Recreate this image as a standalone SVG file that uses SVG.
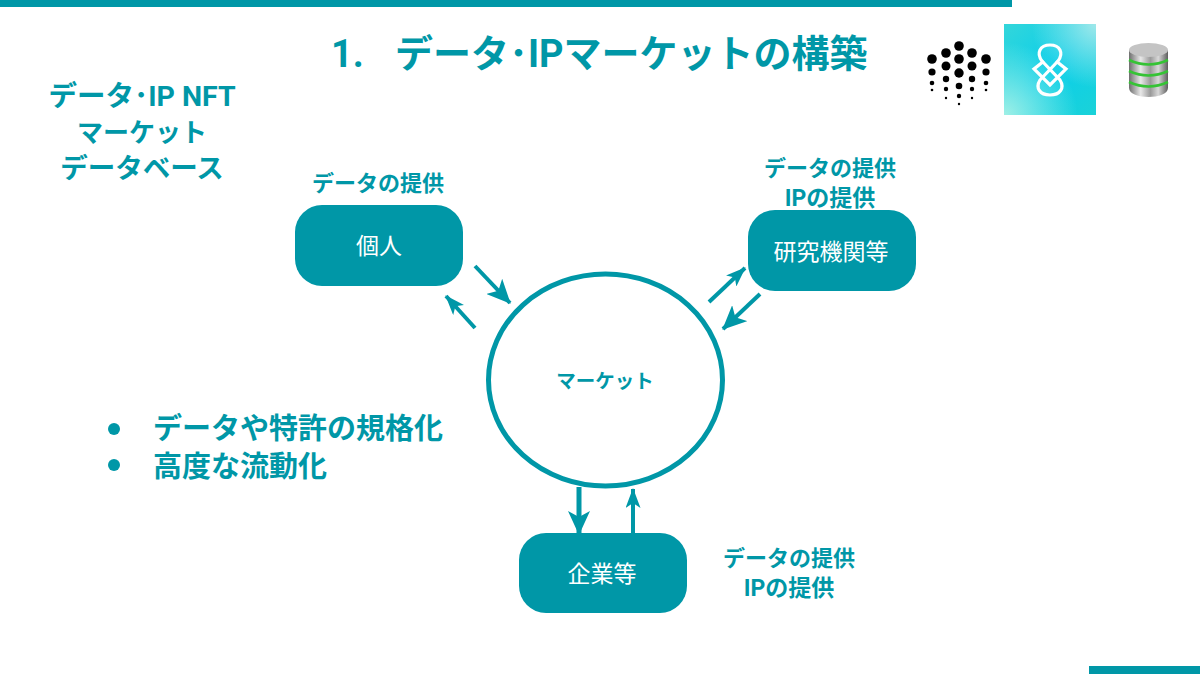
<svg xmlns="http://www.w3.org/2000/svg" width="1200" height="674" viewBox="0 0 1200 674">
<style>
text{font-family:"Roboto","Noto Sans CJK JP",sans-serif;fill:#0097a7;font-weight:700;text-anchor:middle}
.n{fill:#0097a7}
text.w{fill:#fff;font-weight:400;font-size:23px}
.l{font-size:22px}
.i{font-size:23px}
.s{font-size:27.500px}
.b{font-size:29px;text-anchor:start}
.t{font-size:38px;text-anchor:start}
.c{stroke:#0097a7;stroke-width:4px;fill:none}
</style>
<defs>
<marker id="a" viewBox="0 0 24 22" refX="23" refY="11" markerWidth="24" markerHeight="22" markerUnits="userSpaceOnUse" orient="auto"><path d="M0 0L24 11L0 22L6 11Z" fill="#0097a7"/></marker>
<marker id="b" viewBox="0 0 20 15" refX="19" refY="7.500" markerWidth="20" markerHeight="15" markerUnits="userSpaceOnUse" orient="auto"><path d="M0 0L20 7.500L0 15L5 7.500Z" fill="#0097a7"/></marker>
<linearGradient id="g" x1="0" y1="0" x2="1" y2="1"><stop offset="0" stop-color="#33d6da"/><stop offset=".5" stop-color="#0ccfea"/><stop offset="1" stop-color="#1ad2d8"/></linearGradient>
<radialGradient id="g1" cx="1" cy="0" r=".7"><stop offset="0" stop-color="#a0e8ea"/><stop offset="1" stop-color="#a0e8ea" stop-opacity="0"/></radialGradient>
<radialGradient id="g2" cx="0" cy="1" r=".8"><stop offset="0" stop-color="#a0f0e6"/><stop offset="1" stop-color="#a0f0e6" stop-opacity="0"/></radialGradient>
<linearGradient id="s" x1="0" x2="1"><stop offset="0" stop-color="#6e6e6e"/><stop offset=".3" stop-color="#e8e8e8"/><stop offset=".55" stop-color="#9a9a9a"/><stop offset=".75" stop-color="#d8d8d8"/><stop offset="1" stop-color="#5e5e5e"/></linearGradient>
</defs>
<rect x="0" y="0" width="1012" height="7" class="n"/>
<rect x="1089" y="666" width="111" height="8" class="n"/>
<g id="title"><text x="331" y="67" class="t">1.</text><text x="395" y="67" class="t">データ･IPマーケットの構築</text></g>
<g id="side-title"><text x="142" y="106" font-size="28.500">データ･IP NFT</text><text x="142" y="142" font-size="26">マーケット</text><text x="142" y="178" class="s">データベース</text></g>
<g id="logo-dots" fill="#000">
<circle cx="959" cy="46" r="4.800"/><circle cx="946" cy="53" r="4.800"/><circle cx="972" cy="53" r="4.800"/><circle cx="932" cy="59" r="4.800"/><circle cx="959" cy="59" r="4.800"/><circle cx="986" cy="59" r="4.800"/><circle cx="946" cy="66" r="4.500"/><circle cx="972" cy="66" r="4.500"/><circle cx="932" cy="72" r="3.600"/><circle cx="959" cy="73" r="4.700"/><circle cx="986" cy="72" r="3.600"/><circle cx="946" cy="79" r="3.200"/><circle cx="972" cy="79" r="3.200"/><circle cx="932" cy="83" r="2.300"/><circle cx="959" cy="86" r="3.300"/><circle cx="986" cy="83" r="2.300"/><circle cx="932" cy="90" r="1.300"/><circle cx="946" cy="89" r="2.200"/><circle cx="972" cy="89" r="2.200"/><circle cx="986" cy="90" r="1.300"/><circle cx="946" cy="98" r="1.200"/><circle cx="959" cy="96" r="2.200"/><circle cx="972" cy="98" r="1.200"/><circle cx="959" cy="104" r="1.200"/>
</g>
<g id="logo-square">
<rect x="1004" y="24" width="92" height="91" fill="url(#g)"/>
<rect x="1004" y="24" width="92" height="91" fill="url(#g1)"/>
<rect x="1004" y="24" width="92" height="91" fill="url(#g2)"/>
<g fill="none" stroke="#fff" stroke-width="3.200"><path d="M1040 80L1058 61C1064 53 1060 45 1050 45C1040 45 1036 53 1042 61L1060 80C1065 88 1060 95 1050 95C1040 95 1035 88 1040 80Z"/><path d="M1044 61L1034 69L1050 85L1066 69L1056 61"/></g>
</g>
<g id="logo-db">
<path d="M1129 50V88C1129 94 1139 97 1148.500 97C1158 97 1168 94 1168 88V50Z" fill="url(#s)"/>
<ellipse cx="1148.500" cy="50" rx="19.500" ry="7" fill="#c4c4c4"/>
<g fill="none" stroke="#35c335" stroke-width="2.500"><path d="M1129 60Q1148.500 69 1168 60"/><path d="M1129 71Q1148.500 80 1168 71"/><path d="M1129 82Q1148.500 91 1168 82"/></g>
</g>
<g id="connectors">
<path class="c" d="M475 266L510 303" marker-end="url(#a)"/>
<path class="c" d="M475 328L446 296" marker-end="url(#b)"/>
<path class="c" d="M709 302L745 268" marker-end="url(#b)"/>
<path class="c" d="M760 294L723 329" marker-end="url(#a)"/>
<path class="c" d="M579 487L579 534" style="stroke-width:5px" marker-end="url(#a)"/>
<path class="c" d="M633 533L633 489" marker-end="url(#b)"/>
</g>
<g id="node-kojin"><rect x="295" y="205" width="168" height="81" rx="27" class="n"/><text x="379" y="254" class="w">個人</text></g>
<g id="node-kenkyu"><rect x="748" y="210" width="168" height="81" rx="27" class="n"/><text x="831" y="260" class="w">研究機関等</text></g>
<g id="node-kigyo"><rect x="519" y="533" width="168" height="80" rx="27" class="n"/><text x="602" y="582" class="w">企業等</text></g>
<g id="node-market"><ellipse cx="605.500" cy="380" rx="117" ry="106" fill="#fff" stroke="#0097a7" stroke-width="5"/><text x="605" y="388" font-size="19.500">マーケット</text></g>
<g id="labels">
<text x="378" y="191" class="l">データの提供</text>
<text x="830" y="176" class="l">データの提供</text><text x="830" y="206" class="i">IPの提供</text>
<text x="789" y="566" class="l">データの提供</text><text x="789" y="596" class="i">IPの提供</text>
</g>
<g id="bullets">
<circle cx="114" cy="429" r="6" class="n"/><circle cx="114" cy="465" r="6" class="n"/>
<text x="153" y="439" class="b">データや特許の規格化</text>
<text x="153" y="477" class="b">高度な流動化</text>
</g>
</svg>
